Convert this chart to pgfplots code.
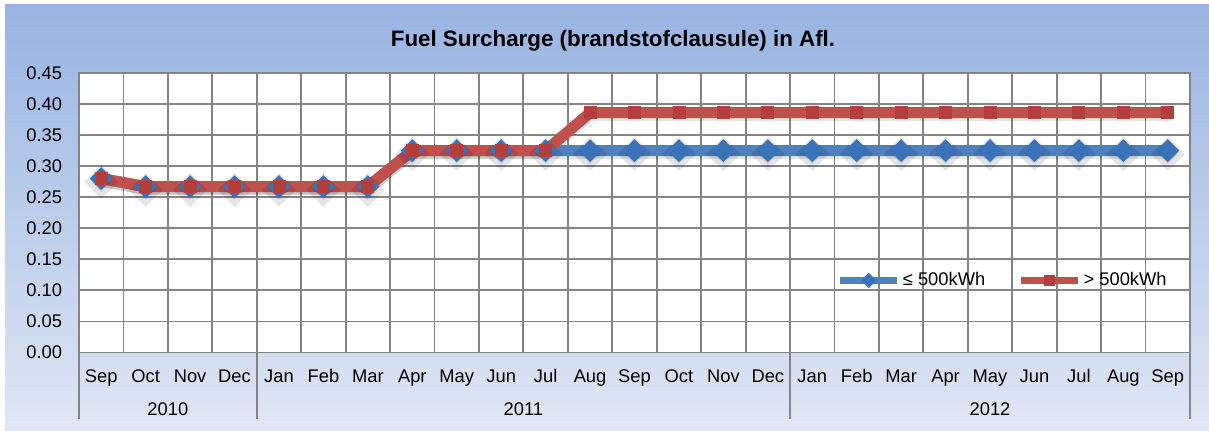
\documentclass[border=0pt]{standalone}
\usepackage{pgfplots}
\pgfplotsset{compat=1.18}
\usepackage{fontspec}
\setmainfont{Liberation Sans}
\definecolor{bgtop}{RGB}{152,180,226}
\definecolor{bgbot}{RGB}{224,231,244}
\definecolor{gridc}{RGB}{132,132,132}
\definecolor{blueL}{RGB}{79,129,189}
\definecolor{blueM}{RGB}{58,114,186}
\definecolor{redL}{RGB}{192,80,77}
\definecolor{redM}{RGB}{180,62,60}
\begin{document}
\begin{tikzpicture}
\path (0,0) rectangle (725.4pt,258.6pt);
\shade[top color=bgtop, bottom color=bgbot] (3pt,0pt) rectangle (725.4pt,255.6pt);
\begin{axis}[
  at={(47.4pt,47.1pt)}, anchor=south west,
  scale only axis, width=666.6pt, height=167.7pt,
  xmin=-0.5, xmax=24.5, ymin=0, ymax=0.45,
  clip=false,
  axis background/.style={fill=white},
  axis line style={gridc, line width=1.1pt},
  ytick={0,0.05,0.10,0.15,0.20,0.25,0.30,0.35,0.40,0.45},
  yticklabel style={/pgf/number format/fixed, /pgf/number format/precision=2, /pgf/number format/zerofill, anchor=east, inner sep=0pt, xshift=-10pt},
  /pgf/number format/assume math mode=true,
  xtick={0,...,24},
  xticklabels={Sep,Oct,Nov,Dec,Jan,Feb,Mar,Apr,May,Jun,Jul,Aug,Sep,Oct,Nov,Dec,Jan,Feb,Mar,Apr,May,Jun,Jul,Aug,Sep},
  xticklabel style={anchor=base, inner sep=0pt, yshift=-17.8pt},
  minor xtick={-0.5,0.5,...,24.5},
  xminorgrids, ymajorgrids,
  major tick length=0pt, minor tick length=0pt,
  grid style={gridc, line width=1.1pt},
  minor grid style={gridc, line width=1.1pt},
  tick label style={font=\fontsize{11}{13}\selectfont, black},
  legend columns=2,
  legend style={at={(0.682,0.258)}, anchor=west, draw=none, fill=none, inner sep=0pt,
    font=\fontsize{11}{13}\selectfont, /tikz/every even column/.append style={column sep=18pt},
    nodes={inner sep=1.5pt}},
  legend image code/.code={\draw[#1, line width=4pt, mark size=3pt, mark repeat=2, mark phase=2] plot coordinates {(0pt,0pt) (17pt,0pt) (34pt,0pt)};},
]
% shadows
\addplot[forget plot, black, opacity=0.1, line width=6pt, yshift=-2pt, mark=square*, mark size=4.2pt, mark options={rotate=45}] coordinates {
(0,0.28)(1,0.267)(2,0.267)(3,0.267)(4,0.267)(5,0.267)(6,0.267)(7,0.325)(8,0.325)(9,0.325)(10,0.325)(11,0.325)(12,0.325)(13,0.325)(14,0.325)(15,0.325)(16,0.325)(17,0.325)(18,0.325)(19,0.325)(20,0.325)(21,0.325)(22,0.325)(23,0.325)(24,0.325)};
\addplot[forget plot, black, opacity=0.1, line width=6pt, yshift=-2pt] coordinates {
(0,0.28)(1,0.267)(2,0.267)(3,0.267)(4,0.267)(5,0.267)(6,0.267)(7,0.325)(8,0.325)(9,0.325)(10,0.325)(11,0.386)(12,0.386)(13,0.386)(14,0.386)(15,0.386)(16,0.386)(17,0.386)(18,0.386)(19,0.386)(20,0.386)(21,0.386)(22,0.386)(23,0.386)(24,0.386)};
% series
\addplot[blueL, line width=6.6pt, mark=square*, mark size=4.6pt, mark options={blueM, fill=blueM, line width=0.5pt, rotate=45}] coordinates {
(0,0.28)(1,0.267)(2,0.267)(3,0.267)(4,0.267)(5,0.267)(6,0.267)(7,0.325)(8,0.325)(9,0.325)(10,0.325)(11,0.325)(12,0.325)(13,0.325)(14,0.325)(15,0.325)(16,0.325)(17,0.325)(18,0.325)(19,0.325)(20,0.325)(21,0.325)(22,0.325)(23,0.325)(24,0.325)};
\addlegendentry{≤ 500kWh}
\addplot[redL, line width=6.6pt, mark=square*, mark size=3.6pt, mark options={redM, fill=redM, line width=0.5pt}] coordinates {
(0,0.28)(1,0.267)(2,0.267)(3,0.267)(4,0.267)(5,0.267)(6,0.267)(7,0.325)(8,0.325)(9,0.325)(10,0.325)(11,0.386)(12,0.386)(13,0.386)(14,0.386)(15,0.386)(16,0.386)(17,0.386)(18,0.386)(19,0.386)(20,0.386)(21,0.386)(22,0.386)(23,0.386)(24,0.386)};
\addlegendentry{> 500kWh}
% group separators and year labels
\draw[gridc, line width=1.1pt] (axis cs:-0.5,0) -- ([yshift=-40.2pt]axis cs:-0.5,0);
\draw[gridc, line width=1.1pt] (axis cs:3.5,0) -- ([yshift=-40.2pt]axis cs:3.5,0);
\draw[gridc, line width=1.1pt] (axis cs:15.5,0) -- ([yshift=-40.2pt]axis cs:15.5,0);
\draw[gridc, line width=1.1pt] (axis cs:24.5,0) -- ([yshift=-40.2pt]axis cs:24.5,0);
\node[anchor=base, inner sep=0pt, font=\fontsize{11}{13}\selectfont] at ([yshift=-37.8pt]axis cs:1.5,0) {2010};
\node[anchor=base, inner sep=0pt, font=\fontsize{11}{13}\selectfont] at ([yshift=-37.8pt]axis cs:9.5,0) {2011};
\node[anchor=base, inner sep=0pt, font=\fontsize{11}{13}\selectfont] at ([yshift=-37.8pt]axis cs:20,0) {2012};
\end{axis}
\node[anchor=base, inner sep=0pt, font=\bfseries\fontsize{13.4}{16}\selectfont] at (367.8pt,230.6pt) {Fuel Surcharge (brandstofclausule) in Afl.};
\end{tikzpicture}
\end{document}
